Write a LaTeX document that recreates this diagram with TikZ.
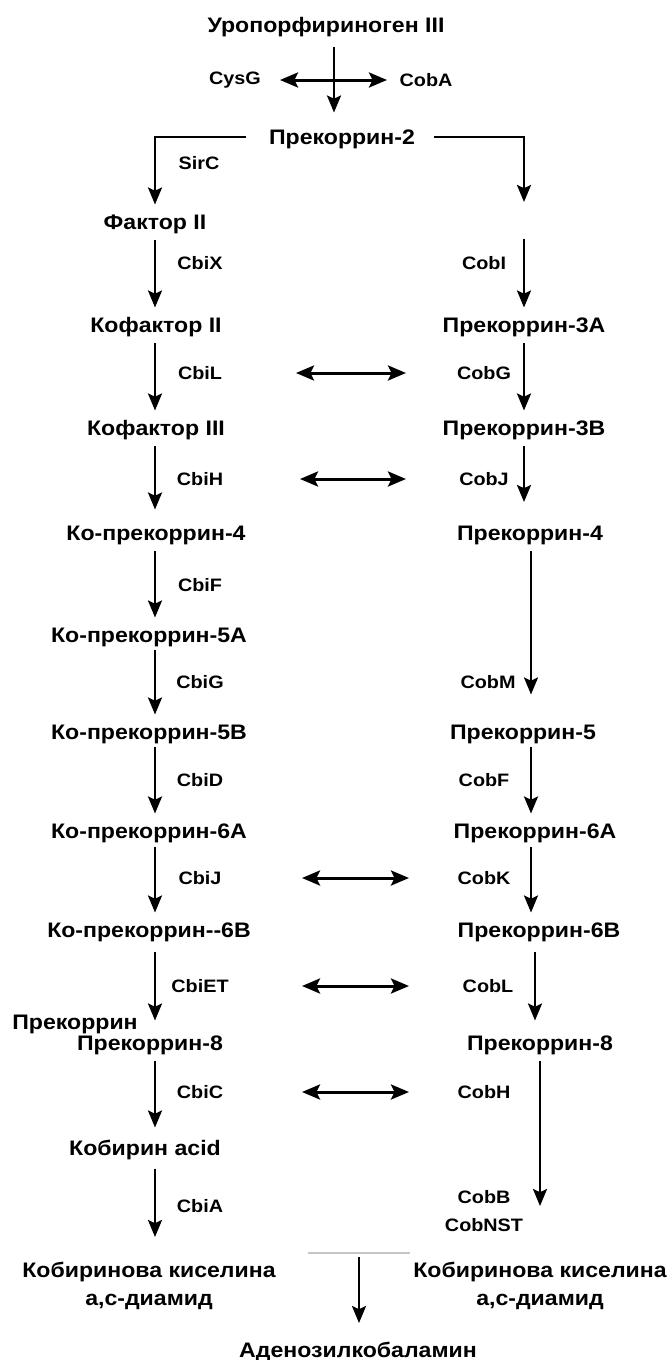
\documentclass[tikz,border=0pt]{standalone}
\usepackage{fontspec}
\setmainfont[FakeStretch=1.1]{Liberation Sans}
\usetikzlibrary{arrows.meta, positioning}

\begin{document}
\begin{tikzpicture}[x=0.5pt, y=-0.5pt,
			lbl/.style={font=\bfseries\fontsize{10.5}{12.5}\selectfont, inner sep=0pt, outer sep=5pt, text height=7.5pt, text depth=0pt},
			enz/.style={font=\bfseries\fontsize{9}{11}\selectfont, inner sep=0pt},
			two/.style={font=\bfseries\fontsize{10.5}{14}\selectfont, inner sep=0pt, align=center, anchor=north},
			arrow/.style={-{Stealth[length=8.5pt, width=7pt, inset=1.6pt]}, line width=1.2pt},
			dbl/.style={{Stealth[length=9pt, width=7.5pt, inset=1.8pt]}-{Stealth[length=9pt, width=7.5pt, inset=1.8pt]}, line width=1.5pt}]
			
			\useasboundingbox (0,0) rectangle (671,1360);
			
			% узлы
			\node[lbl] (uro) at (326,25) {Уропорфириноген III};
			\node[enz] (cysg) at (235,80) {CysG};
			\node[enz] (coba) at (426,80) {CobA};
			\coordinate (cross) at (334,80);
			\node[lbl] (prec2) at (342,137) {Прекоррин-2};
			\node[enz] (sirc) at (199,163) {SirC};
			
			% левая ветвь
			\node[lbl] (fac2) at (155,222) {Фактор II};
			\node[lbl] (cofac2) at (156,325) {Кофактор II};
			\node[lbl] (cofac3) at (156,428) {Кофактор III};
			\node[lbl] (coprec4) at (156,533) {Ко-прекоррин-4};
			\node[lbl] (coprec5a) at (149,635) {Ко-прекоррин-5A};
			\node[lbl] (coprec5b) at (149,732) {Ко-прекоррин-5B};
			\node[lbl] (coprec6a) at (149,831) {Ко-прекоррин-6A};
			\node[lbl] (coprec6b) at (149,930) {Ко-прекоррин-{}-6B};
			\node[lbl] (prec) at (75,1022) {Прекоррин};
			\node[lbl] (coprec8) at (150,1043) {Прекоррин-8};
			\node[lbl] (acid) at (145,1148) {Кобирин acid};
			\node[two] (diamL) at (149,1262) {Кобиринова киселина\\а,с-диамид};
			
			\node[enz] (cbix) at (200,263) {CbiX};
			\node[enz] (cbil) at (200,373) {CbiL};
			\node[enz] (cbih) at (200,479) {CbiH};
			\node[enz] (cbif) at (200,585) {CbiF};
			\node[enz] (cbig) at (200,682) {CbiG};
			\node[enz] (cbid) at (200,780) {CbiD};
			\node[enz] (cbij) at (200,878) {CbiJ};
			\node[enz] (cbiet) at (200,986) {CbiET};
			\node[enz] (cbic) at (200,1092) {CbiC};
			\node[enz] (cbia) at (200,1206) {CbiA};
			
			% правая ветвь
			\coordinate (rtop) at (524,222);
			\node[lbl] (prec3a) at (524,325) {Прекоррин-3A};
			\node[lbl] (prec3b) at (524,428) {Прекоррин-3B};
			\node[lbl] (prec4) at (530,533) {Прекоррин-4};
			\node[lbl] (prec5) at (523,732) {Прекоррин-5};
			\node[lbl] (prec6a) at (535,831) {Прекоррин-6A};
			\node[lbl] (prec6b) at (539,930) {Прекоррин-6B};
			\node[lbl] (prec8) at (540,1043) {Прекоррин-8};
			\node[two] (diamR) at (540,1262) {Кобиринова киселина\\а,с-диамид};
			
			\node[enz] (cobi) at (484,263) {CobI};
			\node[enz] (cobg) at (484,373) {CobG};
			\node[enz] (cobj) at (484,479) {CobJ};
			\node[enz] (cobm) at (488,682) {CobM};
			\node[enz] (cobf) at (484,780) {CobF};
			\node[enz] (cobk) at (484,878) {CobK};
			\node[enz] (cobl) at (488,986) {CobL};
			\node[enz] (cobh) at (484,1092) {CobH};
			\node[enz] (cobb) at (484,1197) {CobB};
			\node[enz, below=7pt of cobb] (cobnst) {CobNST};
			
			\node[lbl] (ado) at (358,1350) {Аденозилкобаламин};
			
			% столбцы стрелок
			\coordinate (lx) at (155,0);
			\coordinate (rxa) at (531,0);
			\coordinate (rxb) at (535,0);
			\coordinate (rxc) at (540,0);
			\coordinate (merge) at (359,1253);
			
			% стрелки
			\draw[arrow, shorten <=2pt, shorten >=3.5pt] (uro.south -| cross) -- (prec2.north -| cross);
			\draw[dbl, shorten <=22.5pt, shorten >=19.5pt] (cysg.center) -- (coba.center);
			\draw[arrow, shorten <=6.5pt] (prec2.west) -| (fac2.north);
			\draw[arrow, shorten <=4.5pt, shorten >=10pt] (prec2.east) -| (rtop);
			
			\draw[arrow] (fac2.south -| lx) -- (cofac2.north -| lx);
			\draw[arrow] (cofac2.south -| lx) -- (cofac3.north -| lx);
			\draw[arrow, shorten >=3pt] (cofac3.south -| lx) -- (coprec4.north -| lx);
			\draw[arrow] (coprec4.south -| lx) -- (coprec5a.north -| lx);
			\draw[arrow, shorten <=-1.5pt] (coprec5a.south -| lx) -- (coprec5b.north -| lx);
			\draw[arrow, shorten <=-1.5pt] (coprec5b.south -| lx) -- (coprec6a.north -| lx);
			\draw[arrow, shorten <=-1pt] (coprec6a.south -| lx) -- (coprec6b.north -| lx);
			\draw[arrow, shorten <=2pt, shorten >=2.5pt] (coprec6b.south -| lx) -- (coprec8.north -| lx);
			\draw[arrow, shorten >=1.5pt] (coprec8.south -| lx) -- (acid.north -| lx);
			\draw[arrow, shorten <=1.5pt, shorten >=12.5pt] (acid.south -| lx) -- (diamL.north -| lx);
			
			\draw[arrow, shorten <=8.5pt] (rtop) -- (prec3a.north);
			\draw[arrow] (prec3a.south) -- (prec3b.north);
			\draw[arrow, shorten >=6.75pt] (prec3b.south) -- (prec4.north -| prec3b);
			\draw[arrow, shorten >=10pt] (prec4.south -| rxa) -- (prec5.north -| rxa);
			\draw[arrow, shorten <=-1.5pt] (prec5.south -| rxa) -- (prec6a.north -| rxa);
			\draw[arrow, shorten <=-1pt] (prec6a.south -| rxa) -- (prec6b.north -| rxa);
			\draw[arrow, shorten <=2pt, shorten >=2.5pt] (prec6b.south -| rxb) -- (prec8.north -| rxb);
			\draw[arrow, shorten >=28pt] (prec8.south -| rxc) -- (diamR.north -| rxc);
			
			\draw[dbl, shorten <=48pt, shorten >=39pt] (cbil.center) -- (cobg.center);
			\draw[dbl, shorten <=50pt, shorten >=39pt] (cbih.center) -- (cobj.center);
			\draw[dbl, shorten <=51pt, shorten >=37.5pt] (cbij.center) -- (cobk.center);
			\draw[dbl, shorten <=51pt, shorten >=39.5pt] (cbiet.center) -- (cobl.center);
			\draw[dbl, shorten <=51pt, shorten >=37.5pt] (cbic.center) -- (cobh.center);
			
			% слияние
			\draw[gray!45, line width=0.6pt] (308,1253) -- (410,1253);
			\draw[arrow, shorten <=2pt, shorten >=4.75pt] (merge) -- (ado.north -| merge);
			
		\end{tikzpicture}
\end{document}
